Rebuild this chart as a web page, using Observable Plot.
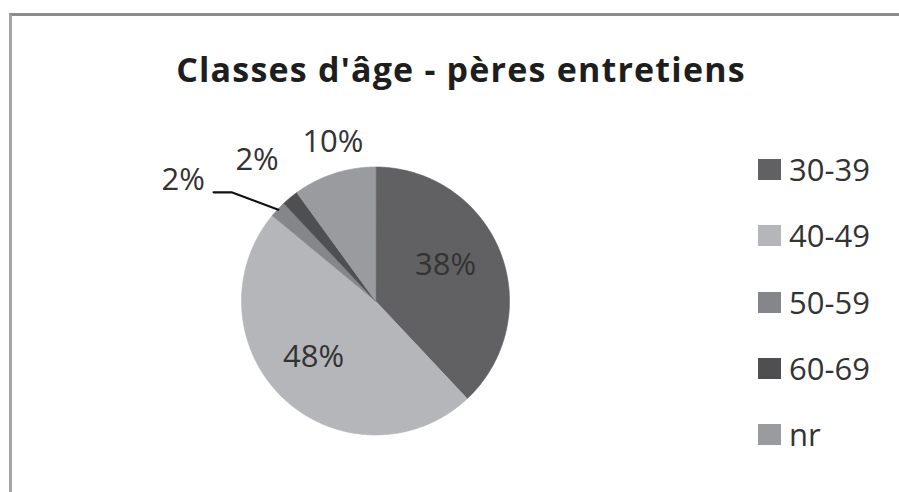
<!DOCTYPE html>
<html>
<head>
<meta charset="utf-8">
<script src="https://cdn.jsdelivr.net/npm/d3@7"></script>
<script src="https://cdn.jsdelivr.net/npm/@observablehq/plot@0.6"></script>
<style>
  html, body { margin: 0; padding: 0; background: #fff; }
  #wrap { position: relative; width: 899px; height: 492px; overflow: hidden; font-family: "Open Sans", sans-serif; }
  #frame { position: absolute; left: 9px; top: 13px; width: 900px; height: 500px; border-top: 3px solid #8c8c8c; border-left: 3px solid #a4a4a4; box-sizing: border-box; }
  #title { position: absolute; left: 0; width: 922px; top: 49px; text-align: center; font-size: 34px; font-weight: 700; color: #1e1e1e; line-height: 40px; letter-spacing: 1.2px; }
  #legend { position: absolute; left: 758px; top: 159px; }
  .row { position: relative; height: 66.3px; }
  .sw { position: absolute; left: 0; top: 0; width: 23px; height: 21px; }
  .lab { position: absolute; left: 31px; top: -10px; font-size: 31px; line-height: 40px; color: #333; white-space: nowrap; }
  #chart { position: absolute; left: 0; top: 0; }
</style>
</head>
<body>
<div id="wrap">
  <div id="frame"></div>
  <div id="chart"></div>
  <div id="title"></div>
  <div id="legend"></div>
</div>
<script>
// ---- data ----
const titleText = "Classes d'âge - pères entretiens";
const categories = ["30-39", "40-49", "50-59", "60-69", "nr"];
const values = [38, 48, 2, 2, 10];
const colors = ["#616163", "#b5b6ba", "#85868a", "#4f4f51", "#9a9b9f"];
const labels = ["38%", "48%", "2%", "2%", "10%"];

// ---- layout ----
const W = 899, H = 492;
const CX = 375, CY = 300.5, R = 134;
// label placement: [radius factor, angle in degrees clockwise from 12 o'clock]
const labelPolar = [[0.586, 63.1], [0.626, 227.7], [1.697, 302.2], [1.375, 320], [1.228, 345]];
const leaderSlice = 2; // 50-59 has a leader line

const pie = d3.pie().sort(null).value(d => d.value);
const rows = categories.map((c, i) => ({category: c, value: values[i], label: labels[i]}));
const arcs = pie(rows);

const slicePts = [];
arcs.forEach(a => {
  const n = Math.max(2, Math.ceil((a.endAngle - a.startAngle) / 0.01));
  slicePts.push({category: a.data.category, x: 0, y: 0});
  for (let k = 0; k <= n; k++) {
    const t = a.startAngle + (a.endAngle - a.startAngle) * k / n;
    slicePts.push({category: a.data.category, x: Math.sin(t), y: -Math.cos(t)});
  }
});

const labelPts = arcs.map((a, i) => {
  const [rf, deg] = labelPolar[i];
  const t = deg * Math.PI / 180;
  return {text: a.data.label, x: rf * Math.sin(t), y: -rf * Math.cos(t)};
});

// leader line from slice mid edge to label
const la = arcs[leaderSlice];
const mid = (la.startAngle + la.endAngle) / 2;
const lp = labelPts[leaderSlice];
const leader = [
  {x: Math.sin(mid) * 0.995, y: -Math.cos(mid) * 0.995},
  {x: lp.x + 48.5 / R, y: lp.y + 12.5 / R},
  {x: lp.x + 30.5 / R, y: lp.y + 12.5 / R}
];

const plot = Plot.plot({
  width: W,
  height: H,
  margin: 0,
  x: {domain: [-CX / R, (W - CX) / R], range: [0, W], axis: null},
  y: {domain: [-CY / R, (H - CY) / R], range: [0, H], axis: null},
  color: {domain: categories, range: colors},
  style: {background: "transparent", overflow: "visible"},
  marks: [
    Plot.line(slicePts, {x: "x", y: "y", z: "category", fill: "category", stroke: "category", strokeWidth: 0.6, curve: "linear-closed"}),
    Plot.line(leader, {x: "x", y: "y", stroke: "#111", strokeWidth: 2.2}),
    Plot.text(labelPts, {x: "x", y: "y", text: "text", fontSize: 31, fill: "#333", fontFamily: "Open Sans"})
  ]
});
document.getElementById("chart").appendChild(plot);

document.getElementById("title").textContent = titleText;

const legend = document.getElementById("legend");
categories.forEach((c, i) => {
  const row = document.createElement("div");
  row.className = "row";
  const sw = document.createElement("div");
  sw.className = "sw";
  sw.style.background = colors[i];
  const lab = document.createElement("div");
  lab.className = "lab";
  lab.textContent = c;
  row.appendChild(sw);
  row.appendChild(lab);
  legend.appendChild(row);
});
</script>
</body>
</html>
